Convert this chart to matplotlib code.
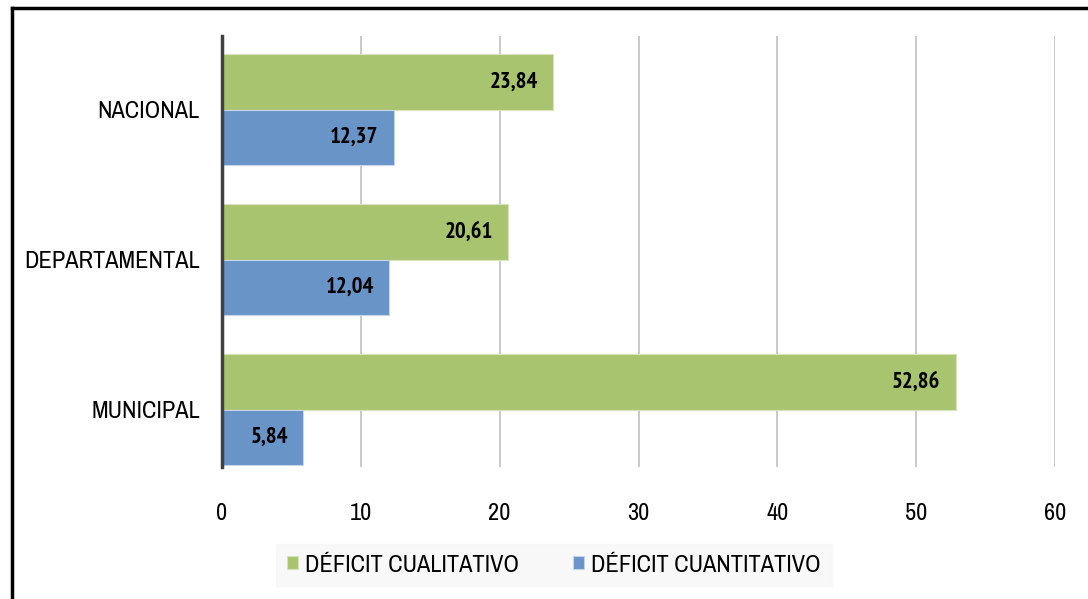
"""Déficit habitacional: barras horizontales por nivel territorial."""

import matplotlib
matplotlib.use("Agg")
import matplotlib.pyplot as plt
import numpy as np
from matplotlib.lines import Line2D

CATEGORIES = ["NACIONAL", "DEPARTAMENTAL", "MUNICIPAL"]
CUALITATIVO = [23.84, 20.61, 52.86]
CUANTITATIVO = [12.37, 12.04, 5.84]
SERIES = ["DÉFICIT CUALITATIVO", "DÉFICIT CUANTITATIVO"]
XTICKS = [0, 10, 20, 30, 40, 50, 60]

FONT = ["Archivo Narrow", "PT Sans Narrow", "Liberation Sans", "DejaVu Sans"]
BOLD_FONT = ["PT Sans Narrow", "Liberation Sans", "DejaVu Sans"]
GREEN = "#a9c46f"
BLUE = "#6894c7"

plt.rcParams["font.family"] = FONT


def fmt(v):
    return f"{v:.2f}".replace(".", ",")


def main():
    fig = plt.figure(figsize=(10.88, 5.99), dpi=100)
    ax = fig.add_axes([222 / 1088, 1 - 467 / 599, (1055 - 222) / 1088, (467 - 36) / 599])

    y = np.arange(len(CATEGORIES))
    h = 0.37
    b1 = ax.barh(y - h / 2, CUALITATIVO, height=h, color=GREEN, edgecolor="#d6e3bd",
                 linewidth=0.8, label=SERIES[0], zorder=3)
    b2 = ax.barh(y + h / 2, CUANTITATIVO, height=h, color=BLUE, edgecolor="#c5d5ea",
                 linewidth=0.8, label=SERIES[1], zorder=3)

    for bars, vals in [(b1, CUALITATIVO), (b2, CUANTITATIVO)]:
        for bar, v in zip(bars, vals):
            ax.annotate(fmt(v), (v, bar.get_y() + bar.get_height() / 2),
                        xytext=(-11, 0), textcoords="offset points",
                        ha="right", va="center", fontsize=16.5, fontweight="bold",
                        family=BOLD_FONT, color="black", zorder=4)

    ax.set_xlim(0, 60)
    ax.set_ylim(2.38, -0.49)
    ax.set_xticks(XTICKS)
    ax.set_yticks(y)
    ax.set_yticklabels(CATEGORIES)
    ax.tick_params(axis="x", length=0, pad=26, labelsize=17.5)
    ax.tick_params(axis="y", length=0, pad=16, labelsize=17.5)
    ax.grid(axis="x", color="#c0c0c0", linewidth=1.2, zorder=0)
    for side in ["top", "right", "bottom"]:
        ax.spines[side].set_visible(False)
    ax.spines["left"].set_color("#404040")
    ax.spines["left"].set_linewidth(2.5)
    ax.spines["left"].set_zorder(5)

    leg = fig.legend(handles=[b1, b2], loc="center", bbox_to_anchor=(554 / 1088, 1 - 565 / 599),
                     ncol=2, fontsize=17.5, frameon=True, fancybox=False,
                     handlelength=0.45, handleheight=0.45, handletextpad=0.3,
                     columnspacing=2.2, borderpad=0.45, borderaxespad=0)
    leg.get_frame().set_facecolor("#f7f7f7")
    leg.get_frame().set_edgecolor("#f7f7f7")

    # marco negro superior e izquierdo
    fig.add_artist(Line2D([12 / 1088, 1], [1 - 8 / 599, 1 - 8 / 599], color="black",
                          linewidth=2.5, transform=fig.transFigure))
    fig.add_artist(Line2D([12 / 1088, 12 / 1088], [0, 1 - 8 / 599], color="black",
                          linewidth=2.5, transform=fig.transFigure))

    fig.savefig("out.png", dpi=100)
    plt.close(fig)


if __name__ == "__main__":
    main()
